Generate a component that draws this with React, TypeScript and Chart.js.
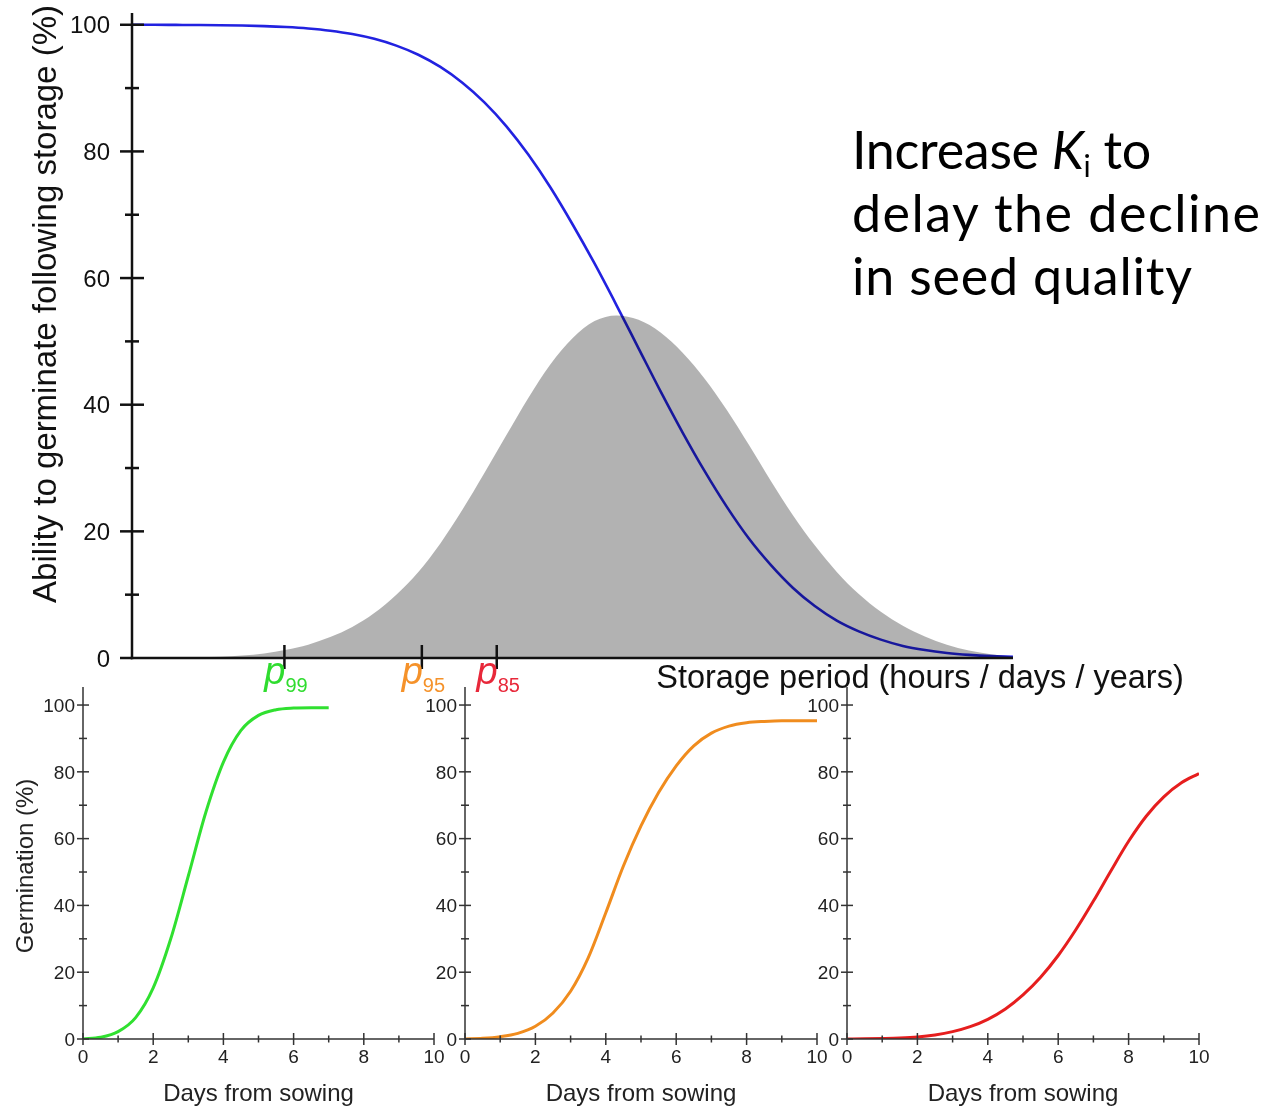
import React, { useEffect, useRef } from "react";
import { Chart, registerables } from "chart.js";
Chart.register(...registerables);

const PAGE_W = 1272;
const PAGE_H = 1108;
const FONT = '"Liberation Sans", Arial, Helvetica, sans-serif';

// ---------- Main chart data (storage period in arbitrary units 0..100) ----------
const storageX = [0, 2.5, 5, 7.5, 10, 12.5, 15, 17.5, 20, 22.5, 25, 27.5, 30, 32.5, 35, 37.5, 40, 42.5, 45, 47.5, 50, 52.5, 55, 57.5, 60, 62.5, 65, 67.5, 70, 72.5, 75, 77.5, 80, 82.5, 85, 87.5, 90, 92.5, 95, 97.5, 100];
const viabilityY = [100, 100, 99.98, 99.96, 99.93, 99.88, 99.79, 99.64, 99.41, 99.06, 98.54, 97.78, 96.71, 95.27, 93.34, 90.85, 87.75, 83.96, 79.46, 74.3, 68.5, 62.3, 55.7, 48.9, 42.1, 35.6, 29.5, 23.9, 18.9, 14.7, 11.1, 8.2, 5.9, 4.2, 2.9, 1.9, 1.25, 0.8, 0.5, 0.3, 0.2];
const densityY = [0, 0, 0.02, 0.11, 0.21, 0.38, 0.7, 1.3, 2.1, 3.3, 4.9, 7.1, 10.0, 13.6, 18.1, 23.4, 29.2, 35.2, 41.1, 46.4, 50.5, 53.2, 54.1, 53.4, 51.4, 48.2, 44.1, 39.2, 33.7, 28.0, 22.6, 17.8, 13.6, 10.1, 7.3, 5.1, 3.4, 2.1, 1.2, 0.6, 0.25];

const storageMax = 100;
const mainYMax = 101.7;
const mainYTicks = [0, 20, 40, 60, 80, 100];
const mainYMinor = [10, 30, 50, 70, 90];

const pTickX = [17.3, 32.9, 41.4];
const pTickSubs = ["99", "95", "85"];
const pTickColors = ["#2fdc2f", "#f5922a", "#e8283a"];

const mainYTitle = "Ability to germinate following storage (%)";
const mainXTitle = "Storage period (hours / days / years)";

// ---------- Germination curves ----------
const greenDays = [0, 0.5, 1, 1.5, 2, 2.5, 3, 3.5, 4, 4.5, 5, 5.5, 6, 6.5, 7];
const greenGerm = [0, 0.5, 2.2, 6.4, 15.3, 30, 48.8, 67.9, 82.9, 92.4, 96.9, 98.6, 99.1, 99.2, 99.2];

const orangeDays = [0, 0.5, 1, 1.5, 2, 2.5, 3, 3.5, 4, 4.5, 5, 5.5, 6, 6.5, 7, 7.5, 8, 8.5, 9, 9.5, 10];
const orangeGerm = [0, 0.2, 0.7, 1.7, 3.8, 7.8, 14.3, 24.3, 37.8, 51.8, 63.8, 73.8, 81.8, 87.8, 91.6, 93.7, 94.7, 95.1, 95.3, 95.3, 95.3];

const redDays = [0, 0.5, 1, 1.5, 2, 2.5, 3, 3.5, 4, 4.5, 5, 5.5, 6, 6.5, 7, 7.5, 8, 8.5, 9, 9.5, 10];
const redGerm = [0, 0.05, 0.15, 0.3, 0.6, 1.2, 2.2, 3.7, 5.9, 9.0, 13.2, 18.5, 25.0, 32.7, 41.3, 50.4, 59.2, 66.7, 72.5, 76.7, 79.5];

const germYMax = 105.4;
const germYTicks = [0, 20, 40, 60, 80, 100];
const germYMinor = [10, 30, 50, 70, 90];
const dayTicks = [0, 2, 4, 6, 8, 10];
const dayMinor = [1, 3, 5, 7, 9];
const germYTitle = "Germination (%)";
const germXTitle = "Days from sowing";

const zip = (xs: number[], ys: number[]) => xs.map((x, i) => ({ x, y: ys[i] }));

function line(ctx: CanvasRenderingContext2D, x1: number, y1: number, x2: number, y2: number) {
  ctx.beginPath();
  ctx.moveTo(x1, y1);
  ctx.lineTo(x2, y2);
  ctx.stroke();
}

const mainAxesPlugin = {
  id: "mainAxes",
  afterDraw(chart: any) {
    const ctx: CanvasRenderingContext2D = chart.ctx;
    const x = chart.scales.x;
    const y = chart.scales.y;
    const ca = chart.chartArea;
    const x0 = x.getPixelForValue(0);
    const y0 = y.getPixelForValue(0);
    const xEnd = x.getPixelForValue(storageMax);
    ctx.save();
    ctx.strokeStyle = "#111";
    ctx.lineWidth = 2.5;
    line(ctx, x0, ca.top - 1, x0, y0 + 1.25);
    line(ctx, x0 - 1.25, y0, xEnd, y0);
    for (const v of mainYMinor) {
      const py = y.getPixelForValue(v);
      line(ctx, x0 - 7, py, x0 + 7, py);
    }
    ctx.fillStyle = "#111";
    ctx.font = `24px ${FONT}`;
    ctx.textAlign = "right";
    ctx.textBaseline = "alphabetic";
    for (const v of mainYTicks) {
      const py = y.getPixelForValue(v);
      line(ctx, x0 - 12, py, v === 0 ? x0 : x0 + 12, py);
      ctx.fillText(String(v), x0 - 22, py + 8.6);
    }
    // p ticks
    pTickX.forEach((pv, i) => {
      const px = x.getPixelForValue(pv);
      ctx.strokeStyle = "#111";
      line(ctx, px, y0 - 13, px, y0 + 11);
      ctx.fillStyle = pTickColors[i];
      ctx.font = `italic 38px ${FONT}`;
      ctx.textAlign = "right";
      ctx.fillText("p", px + 1, y0 + 26);
      ctx.font = `20px ${FONT}`;
      ctx.textAlign = "left";
      ctx.fillText(pTickSubs[i], px + 1, y0 + 34);
    });
    // titles
    ctx.fillStyle = "#111";
    ctx.font = `32.5px ${FONT}`;
    ctx.textAlign = "center";
    ctx.fillText(mainXTitle, 920, y0 + 30);
    ctx.save();
    ctx.font = `33px ${FONT}`;
    ctx.translate(56, (ca.top + y0) / 2 - 32);
    ctx.rotate(-Math.PI / 2);
    ctx.fillText(mainYTitle, 0, 0);
    ctx.restore();
    ctx.restore();
  },
};

function smallAxesPlugin(showYTitle: boolean) {
  return {
    id: "smallAxes",
    afterDraw(chart: any) {
      const ctx: CanvasRenderingContext2D = chart.ctx;
      const x = chart.scales.x;
      const y = chart.scales.y;
      const ca = chart.chartArea;
      const x0 = x.getPixelForValue(0);
      const y0 = y.getPixelForValue(0);
      const xEnd = x.getPixelForValue(10);
      ctx.save();
      ctx.strokeStyle = "#333";
      ctx.lineWidth = 1.5;
      line(ctx, x0, ca.top, x0, y0);
      line(ctx, x0, y0, xEnd, y0);
      for (const v of germYMinor) {
        const py = y.getPixelForValue(v);
        line(ctx, x0 - 4, py, x0 + 4, py);
      }
      for (const d of dayMinor) {
        const px = x.getPixelForValue(d);
        line(ctx, px, y0 - 3.5, px, y0 + 3.5);
      }
      ctx.fillStyle = "#222";
      ctx.font = `19px ${FONT}`;
      ctx.textBaseline = "alphabetic";
      ctx.textAlign = "right";
      for (const v of germYTicks) {
        const py = y.getPixelForValue(v);
        line(ctx, x0 - 6, py, x0 + 6, py);
        ctx.fillText(String(v), x0 - 8, py + 6.8);
      }
      ctx.textAlign = "center";
      for (const d of dayTicks) {
        const px = x.getPixelForValue(d);
        line(ctx, px, y0 - 6, px, y0 + 6);
        ctx.fillText(String(d), px, y0 + 24);
      }
      ctx.font = `24px ${FONT}`;
      ctx.fillText(germXTitle, (x0 + xEnd) / 2, y0 + 62);
      if (showYTitle) {
        ctx.save();
        ctx.translate(33, 866);
        ctx.rotate(-Math.PI / 2);
        ctx.fillText(germYTitle, 0, 0);
        ctx.restore();
      }
      ctx.restore();
    },
  };
}

function padding(left: number, right: number, top: number, bottom: number) {
  return { left, right: PAGE_W - right, top, bottom: PAGE_H - bottom };
}

function mainConfig(): any {
  return {
    type: "scatter",
    data: {
      datasets: [
        {
          data: zip(storageX, densityY),
          showLine: true,
          borderWidth: 0,
          pointRadius: 0,
          fill: "origin",
          backgroundColor: "rgba(0,0,0,0.3)",
          cubicInterpolationMode: "monotone",
        },
        {
          data: zip(storageX, viabilityY),
          showLine: true,
          borderColor: "#2222e0",
          borderWidth: 2.6,
          pointRadius: 0,
          fill: false,
          cubicInterpolationMode: "monotone",
        },
      ],
    },
    options: {
      responsive: false,
      animation: false,
      devicePixelRatio: 1,
      layout: { padding: padding(132, 1013, 14, 658) },
      plugins: { legend: { display: false }, tooltip: { enabled: false } },
      events: [],
      scales: {
        x: { type: "linear", min: 0, max: storageMax, display: false },
        y: { type: "linear", min: 0, max: mainYMax, display: false },
      },
    },
    plugins: [mainAxesPlugin],
  };
}

function smallConfig(days: number[], germ: number[], color: string, left: number, right: number, showYTitle: boolean): any {
  return {
    type: "scatter",
    data: {
      datasets: [
        {
          data: zip(days, germ),
          showLine: true,
          borderColor: color,
          borderWidth: 3,
          pointRadius: 0,
          fill: false,
          cubicInterpolationMode: "monotone",
        },
      ],
    },
    options: {
      responsive: false,
      animation: false,
      devicePixelRatio: 1,
      layout: { padding: padding(left, right, 687, 1039) },
      plugins: { legend: { display: false }, tooltip: { enabled: false } },
      events: [],
      scales: {
        x: { type: "linear", min: 0, max: 10, display: false },
        y: { type: "linear", min: 0, max: germYMax, display: false },
      },
    },
    plugins: [smallAxesPlugin(showYTitle)],
  };
}

function ChartCanvas({ make }: { make: () => any }) {
  const ref = useRef<HTMLCanvasElement>(null);
  useEffect(() => {
    const chart = new Chart(ref.current as HTMLCanvasElement, make());
    return () => chart.destroy();
  }, []);
  return (
    <canvas
      ref={ref}
      width={PAGE_W}
      height={PAGE_H}
      style={{ position: "absolute", left: 0, top: 0, width: PAGE_W, height: PAGE_H }}
    />
  );
}

export default function App() {
  return (
    <div style={{ position: "absolute", left: 0, top: 0, width: PAGE_W, height: PAGE_H, background: "#fff", overflow: "hidden" }}>
      <ChartCanvas make={mainConfig} />
      <ChartCanvas make={() => smallConfig(greenDays, greenGerm, "#30e030", 83, 434, true)} />
      <ChartCanvas make={() => smallConfig(orangeDays, orangeGerm, "#f08c1e", 465, 817, false)} />
      <ChartCanvas make={() => smallConfig(redDays, redGerm, "#e61e1e", 847, 1199, false)} />
      <div
        style={{
          position: "absolute",
          left: 852,
          top: 118,
          fontFamily: "Lato, 'Open Sans', sans-serif",
          fontSize: 52,
          lineHeight: "63px",
          color: "#000",
          whiteSpace: "nowrap",
        }}
      >
        <span style={{ letterSpacing: "-0.3px" }}>
          Increase <i>K</i>
          <sub style={{ fontSize: 30, lineHeight: 0, verticalAlign: "-8px" }}>i</sub> to
        </span>
        <br />
        <span style={{ letterSpacing: "1.5px" }}>delay the decline</span>
        <br />
        <span style={{ letterSpacing: "0.8px" }}>in seed quality</span>
      </div>
    </div>
  );
}
